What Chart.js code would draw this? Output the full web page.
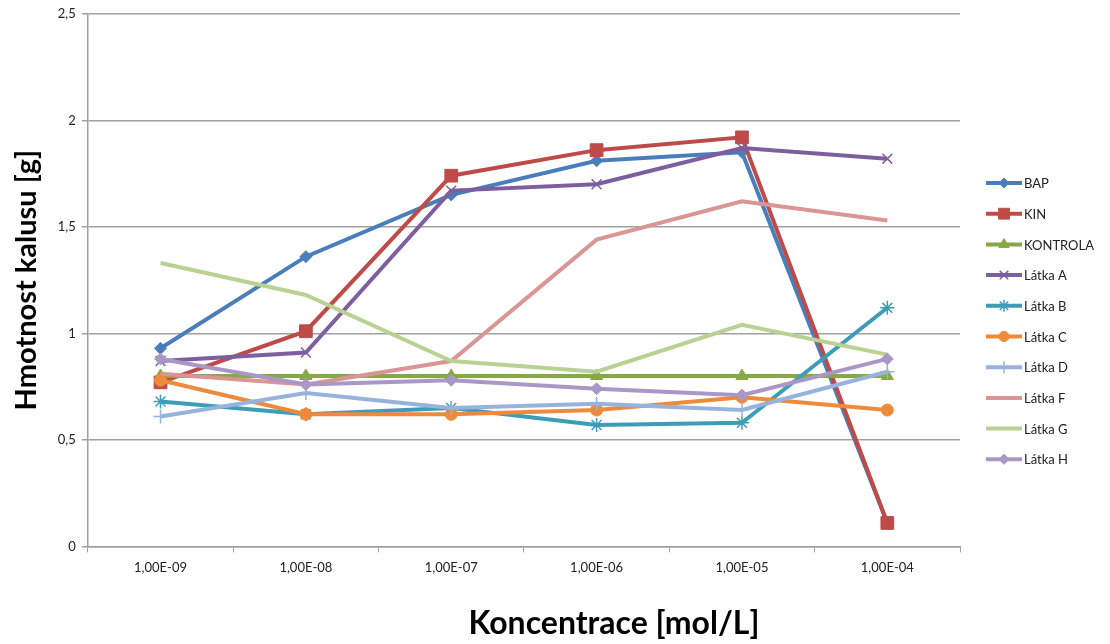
<!DOCTYPE html>
<html>
<head>
<meta charset="utf-8">
<script src="https://cdn.jsdelivr.net/npm/chart.js@4/dist/chart.umd.min.js"></script>
<style>
  html, body { margin: 0; padding: 0; background: #fff; }
  #wrap { width: 1110px; height: 644px; position: relative; }
</style>
</head>
<body>
<div id="wrap"><canvas id="chart" width="1110" height="644"></canvas></div>
<script>
'use strict';

const labels = ['1,00E-09', '1,00E-08', '1,00E-07', '1,00E-06', '1,00E-05', '1,00E-04'];

const bap = [0.93, 1.36, 1.65, 1.81, 1.85, 0.11];
const kin = [0.77, 1.01, 1.74, 1.86, 1.92, 0.11];
const kontrola = [0.8, 0.8, 0.8, 0.8, 0.8, 0.8];
const latkaA = [0.87, 0.91, 1.67, 1.7, 1.87, 1.82];
const latkaB = [0.68, 0.62, 0.65, 0.57, 0.58, 1.12];
const latkaC = [0.78, 0.62, 0.62, 0.64, 0.7, 0.64];
const latkaD = [0.61, 0.72, 0.65, 0.67, 0.64, 0.82];
const latkaF = [0.81, 0.76, 0.87, 1.44, 1.62, 1.53];
const latkaG = [1.33, 1.18, 0.87, 0.82, 1.04, 0.9];
const latkaH = [0.88, 0.76, 0.78, 0.74, 0.71, 0.88];

const yTicks = [0, 0.5, 1, 1.5, 2, 2.5];

const series = [
  { label: 'BAP', data: bap, color: '#4A7EBB', style: 'rectRot', r: 6 },
  { label: 'KIN', data: kin, color: '#BE4B48', style: 'rect', r: 9 },
  { label: 'KONTROLA', data: kontrola, color: '#86A845', style: 'triangle', r: 7 },
  { label: 'Látka A', data: latkaA, color: '#7D5FA0', style: 'crossRot', r: 7 },
  { label: 'Látka B', data: latkaB, color: '#3E9DB6', style: 'star', r: 7 },
  { label: 'Látka C', data: latkaC, color: '#EE8A3C', style: 'circle', r: 6 },
  { label: 'Látka D', data: latkaD, color: '#97B3DC', style: 'cross', r: 7 },
  { label: 'Látka F', data: latkaF, color: '#D99694', style: 'circle', r: 0 },
  { label: 'Látka G', data: latkaG, color: '#B9D293', style: 'line', r: 0 },
  { label: 'Látka H', data: latkaH, color: '#A997C6', style: 'rectRot', r: 6 },
];

const FONT = 'Lato, "Open Sans", sans-serif';
const xTitle = 'Koncentrace [mol/L]';

const thinStyles = ['crossRot', 'star', 'cross'];

const datasets = series.map((s, i) => ({
  label: s.label,
  data: s.data,
  borderColor: s.color,
  backgroundColor: s.color,
  borderWidth: 4,
  pointStyle: s.style,
  pointRadius: s.r,
  pointBorderWidth: thinStyles.includes(s.style) ? 1.5 : 1,
  pointBorderColor: s.color,
  pointBackgroundColor: s.color,
  tension: 0,
  fill: false,
  order: series.length - i,
}));

// legend like the Excel one: short line with the marker in the middle,
// plus the x title, which sits right of the plot centre in the original
const excelExtras = {
  id: 'excelExtras',
  afterDraw(chart) {
    const ctx = chart.ctx;
    const x0 = 986;
    const x1 = 1022;
    const top = 183;
    const step = 30.7;
    ctx.save();
    series.forEach((s, i) => {
      const y = top + i * step;
      ctx.strokeStyle = s.color;
      ctx.fillStyle = s.color;
      ctx.lineWidth = 4;
      ctx.beginPath();
      ctx.moveTo(x0, y);
      ctx.lineTo(x1, y);
      ctx.stroke();
      if (s.r > 0) {
        ctx.lineWidth = thinStyles.includes(s.style) ? 1.5 : 1;
        Chart.helpers.drawPoint(ctx, {
          pointStyle: s.style,
          radius: s.r * 0.85,
          rotation: 0,
          borderWidth: ctx.lineWidth,
        }, (x0 + x1) / 2, y);
      }
      ctx.fillStyle = '#222';
      ctx.font = '13px ' + FONT;
      ctx.textBaseline = 'middle';
      ctx.textAlign = 'left';
      ctx.fillText(s.label, x1 + 2, y + 1);
    });

    ctx.fillStyle = '#000';
    ctx.font = 'bold 32px ' + FONT;
    ctx.textAlign = 'center';
    ctx.textBaseline = 'middle';
    ctx.fillText(xTitle, 614, 624);
    ctx.restore();
  },
};

new Chart(document.getElementById('chart'), {
  type: 'line',
  data: { labels, datasets },
  plugins: [excelExtras],
  options: {
    responsive: false,
    animation: false,
    layout: {
      padding: { left: 9, right: 150, top: 8, bottom: 60 },
    },
    plugins: {
      legend: { display: false },
      tooltip: { enabled: false },
    },
    scales: {
      x: {
        offset: true,
        grid: {
          offset: true,
          drawOnChartArea: false,
          drawTicks: true,
          tickLength: 6,
          color: '#A0A0A0',
        },
        border: { color: '#A0A0A0', width: 1.5 },
        ticks: {
          color: '#222',
          font: { family: FONT, size: 13 },
          padding: 8,
          maxRotation: 0,
        },
      },
      y: {
        min: 0,
        max: 2.5,
        afterBuildTicks(axis) {
          axis.ticks = yTicks.map(v => ({ value: v }));
        },
        grid: {
          color: '#A0A0A0',
          lineWidth: 1.5,
          tickLength: 6,
        },
        border: { color: '#A0A0A0', width: 1.5 },
        ticks: {
          color: '#222',
          font: { family: FONT, size: 13 },
          padding: 6,
          callback: v => String(v).replace('.', ','),
        },
        title: {
          display: true,
          text: 'Hmotnost kalusu [g]',
          color: '#000',
          font: { family: FONT, size: 29, weight: 'bold' },
          padding: { top: 0, bottom: 8 },
        },
      },
    },
  },
});
</script>
</body>
</html>
